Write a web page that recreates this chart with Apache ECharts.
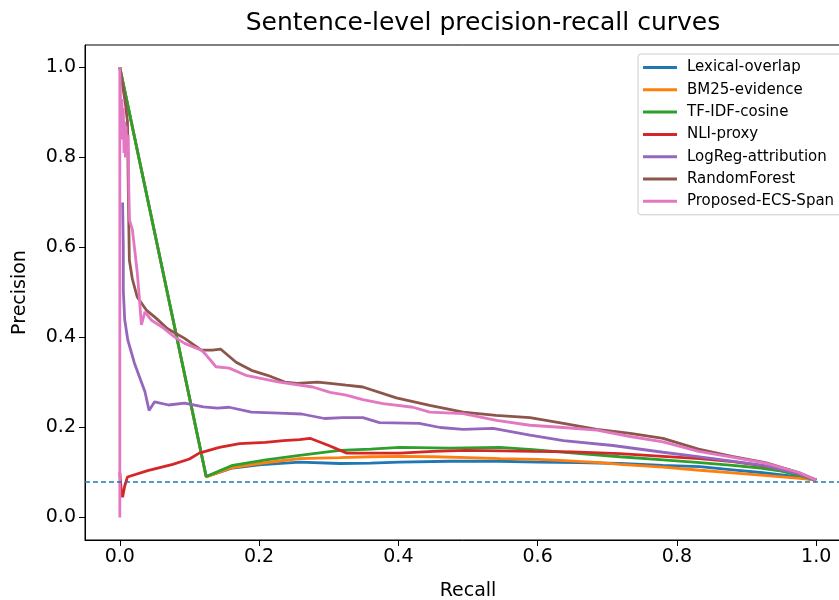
<!DOCTYPE html>
<html>
<head>
<meta charset="utf-8">
<title>Sentence-level precision-recall curves</title>
<script src="https://cdn.jsdelivr.net/npm/echarts@6/dist/echarts.min.js"></script>
<style>
  html, body { margin: 0; padding: 0; background: #fff; }
  #chart { width: 839px; height: 600px; }
</style>
</head>
<body>
<div id="chart"></div>
<script>
// tick labels
const xTicks = [0, 0.2, 0.4, 0.6, 0.8, 1.0];
const yTicks = [0, 0.2, 0.4, 0.6, 0.8, 1.0];
const baseline = 0.083; // positive rate

const methods = ['Lexical-overlap', 'BM25-evidence', 'TF-IDF-cosine', 'NLI-proxy',
  'LogReg-attribution', 'RandomForest', 'Proposed-ECS-Span'];
const colors = ['#1f77b4', '#ff7f0e', '#2ca02c', '#d62728', '#9467bd', '#8c564b', '#e377c2'];

// [recall, precision]
const lexicalOverlap = [[0, 1], [0.124, 0.091], [0.162, 0.11], [0.2, 0.117], [0.258, 0.123],
  [0.316, 0.12], [0.36, 0.121], [0.402, 0.123], [0.474, 0.125], [0.546, 0.125], [0.6, 0.123],
  [0.66, 0.122], [0.718, 0.12], [0.78, 0.116], [0.833, 0.113], [0.88, 0.106], [0.92, 0.1],
  [0.96, 0.093], [0.977, 0.089], [1, 0.083]];

const bm25Evidence = [[0, 1], [0.124, 0.09], [0.162, 0.111], [0.2, 0.12], [0.258, 0.131],
  [0.316, 0.133], [0.36, 0.135], [0.402, 0.136], [0.45, 0.135], [0.5, 0.133], [0.546, 0.131],
  [0.6, 0.129], [0.632, 0.127], [0.69, 0.122], [0.718, 0.118], [0.78, 0.112], [0.833, 0.105],
  [0.88, 0.099], [0.92, 0.094], [0.977, 0.087], [1, 0.083]];

const tfidfCosine = [[0, 1], [0.124, 0.091], [0.162, 0.116], [0.21, 0.128], [0.258, 0.138],
  [0.316, 0.149], [0.36, 0.152], [0.402, 0.156], [0.474, 0.154], [0.546, 0.156], [0.593, 0.151],
  [0.661, 0.142], [0.718, 0.135], [0.78, 0.128], [0.833, 0.122], [0.88, 0.116], [0.92, 0.11],
  [0.95, 0.103], [0.977, 0.093], [1, 0.083]];

const nliProxy = [[0, 0.1], [0.002, 0.06], [0.004, 0.045], [0.007, 0.07], [0.011, 0.09],
  [0.04, 0.104], [0.076, 0.118], [0.1, 0.13], [0.114, 0.143], [0.143, 0.156], [0.172, 0.164],
  [0.209, 0.167], [0.235, 0.171], [0.258, 0.173], [0.273, 0.176], [0.3, 0.16], [0.326, 0.143],
  [0.36, 0.143], [0.402, 0.143], [0.45, 0.147], [0.497, 0.149], [0.55, 0.148], [0.593, 0.147],
  [0.65, 0.146], [0.718, 0.142], [0.78, 0.136], [0.833, 0.131], [0.88, 0.124], [0.92, 0.116],
  [0.95, 0.108], [0.977, 0.096], [1, 0.083]];

const logregAttribution = [[0.004, 0.7], [0.005, 0.6], [0.005, 0.505], [0.007, 0.44],
  [0.0115, 0.394], [0.016, 0.37], [0.021, 0.343], [0.03, 0.305], [0.036, 0.28], [0.042, 0.238],
  [0.05, 0.257], [0.07, 0.25], [0.093, 0.254], [0.12, 0.246], [0.14, 0.243], [0.157, 0.245],
  [0.189, 0.234], [0.229, 0.232], [0.261, 0.23], [0.294, 0.22], [0.32, 0.222], [0.349, 0.222],
  [0.373, 0.211], [0.43, 0.209], [0.46, 0.2], [0.493, 0.196], [0.536, 0.198], [0.589, 0.183],
  [0.637, 0.171], [0.708, 0.16], [0.78, 0.145], [0.852, 0.131], [0.924, 0.116], [0.972, 0.098],
  [1, 0.083]];

const randomForest = [[0, 1], [0.008, 0.92], [0.011, 0.88], [0.012, 0.75], [0.013, 0.64],
  [0.0137, 0.572], [0.018, 0.53], [0.025, 0.49], [0.038, 0.461], [0.052, 0.443], [0.068, 0.42],
  [0.093, 0.398], [0.117, 0.372], [0.133, 0.372], [0.145, 0.374], [0.167, 0.345], [0.189, 0.327],
  [0.212, 0.316], [0.237, 0.301], [0.254, 0.298], [0.284, 0.301], [0.302, 0.298], [0.325, 0.294],
  [0.349, 0.29], [0.397, 0.266], [0.445, 0.249], [0.493, 0.234], [0.54, 0.227], [0.589, 0.222],
  [0.637, 0.209], [0.685, 0.196], [0.733, 0.187], [0.78, 0.176], [0.831, 0.152], [0.879, 0.136],
  [0.927, 0.122], [0.975, 0.1], [1, 0.083]];

const proposedEcsSpan = [[0, 0], [0, 1], [0.002, 0.86], [0.003, 0.93], [0.004, 0.84],
  [0.005, 0.91], [0.006, 0.81], [0.007, 0.88], [0.008, 0.8], [0.009, 0.87], [0.01, 0.81],
  [0.012, 0.85], [0.013, 0.72], [0.014, 0.66], [0.018, 0.64], [0.021, 0.6], [0.025, 0.545],
  [0.028, 0.49], [0.031, 0.428], [0.036, 0.457], [0.045, 0.439], [0.06, 0.424], [0.078, 0.402],
  [0.093, 0.387], [0.117, 0.372], [0.124, 0.361], [0.13, 0.35], [0.138, 0.335], [0.157, 0.332],
  [0.181, 0.316], [0.229, 0.301], [0.277, 0.29], [0.302, 0.278], [0.325, 0.272], [0.349, 0.262],
  [0.378, 0.253], [0.421, 0.245], [0.445, 0.234], [0.493, 0.231], [0.541, 0.216], [0.589, 0.205],
  [0.637, 0.2], [0.685, 0.194], [0.733, 0.18], [0.78, 0.168], [0.831, 0.147], [0.879, 0.134],
  [0.927, 0.121], [0.975, 0.1], [1, 0.083]];

const curves = [lexicalOverlap, bm25Evidence, tfidfCosine, nliProxy,
  logregAttribution, randomForest, proposedEcsSpan];

const font = 'DejaVu Sans';
const chart = echarts.init(document.getElementById('chart'));

const series = methods.map((name, i) => ({
  name: name,
  type: 'line',
  data: curves[i],
  showSymbol: false,
  symbol: 'none',
  lineStyle: { color: colors[i], width: 2.8 },
  itemStyle: { color: colors[i] },
  emphasis: { disabled: true }
}));

// dashed baseline
series[0].markLine = {
  silent: true,
  symbol: 'none',
  label: { show: false },
  emphasis: { disabled: true },
  lineStyle: { color: '#1f77b4', type: [5, 3], width: 1.5, opacity: 1 },
  data: [{ yAxis: baseline, lineStyle: { color: '#1f77b4' } }]
};

chart.setOption({
  animation: false,
  backgroundColor: '#fff',
  title: {
    text: 'Sentence-level precision-recall curves',
    left: 478, top: 6, textAlign: 'center',
    textStyle: { fontFamily: font, fontSize: 25, fontWeight: 'normal', color: '#000' }
  },
  legend: {
    orient: 'vertical',
    left: 638, top: 54,
    padding: [6, 30, 6, 5],
    itemWidth: 34, itemHeight: 3, itemGap: 7.3,
    icon: 'rect',
    borderColor: '#cccccc', borderWidth: 1, borderRadius: 3,
    backgroundColor: 'rgba(255,255,255,0.8)',
    textStyle: { fontFamily: font, fontSize: 15, color: '#000', lineHeight: 15, padding: [0, 0, 0, 5] },
    data: methods
  },
  grid: {
    left: 85, top: 45, width: 766, height: 495,
    outerBoundsMode: 'none',
    show: true, borderColor: '#000', borderWidth: 1
  },
  xAxis: {
    type: 'value', min: -0.05, max: 1.05,
    name: 'Recall', nameLocation: 'middle', nameGap: 42,
    nameTextStyle: { fontFamily: font, fontSize: 19, color: '#000' },
    axisLine: { show: true, onZero: false, lineStyle: { color: '#000', width: 1 } },
    axisTick: { show: true, length: 6, customValues: xTicks, lineStyle: { color: '#000' } },
    axisLabel: { customValues: xTicks, margin: 8, fontFamily: font, fontSize: 19, color: '#000',
      formatter: v => v.toFixed(1) },
    splitLine: { show: false }
  },
  yAxis: {
    type: 'value', min: -0.05, max: 1.05,
    name: 'Precision', nameLocation: 'middle', nameGap: 55, nameRotate: 90,
    nameTextStyle: { fontFamily: font, fontSize: 19, color: '#000' },
    axisLine: { show: true, onZero: false, lineStyle: { color: '#000', width: 1 } },
    axisTick: { show: true, length: 6, customValues: yTicks, lineStyle: { color: '#000' } },
    axisLabel: { customValues: yTicks, margin: 9, fontFamily: font, fontSize: 19, color: '#000',
      formatter: v => v.toFixed(1) },
    splitLine: { show: false }
  },
  series: series
});
</script>
</body>
</html>
